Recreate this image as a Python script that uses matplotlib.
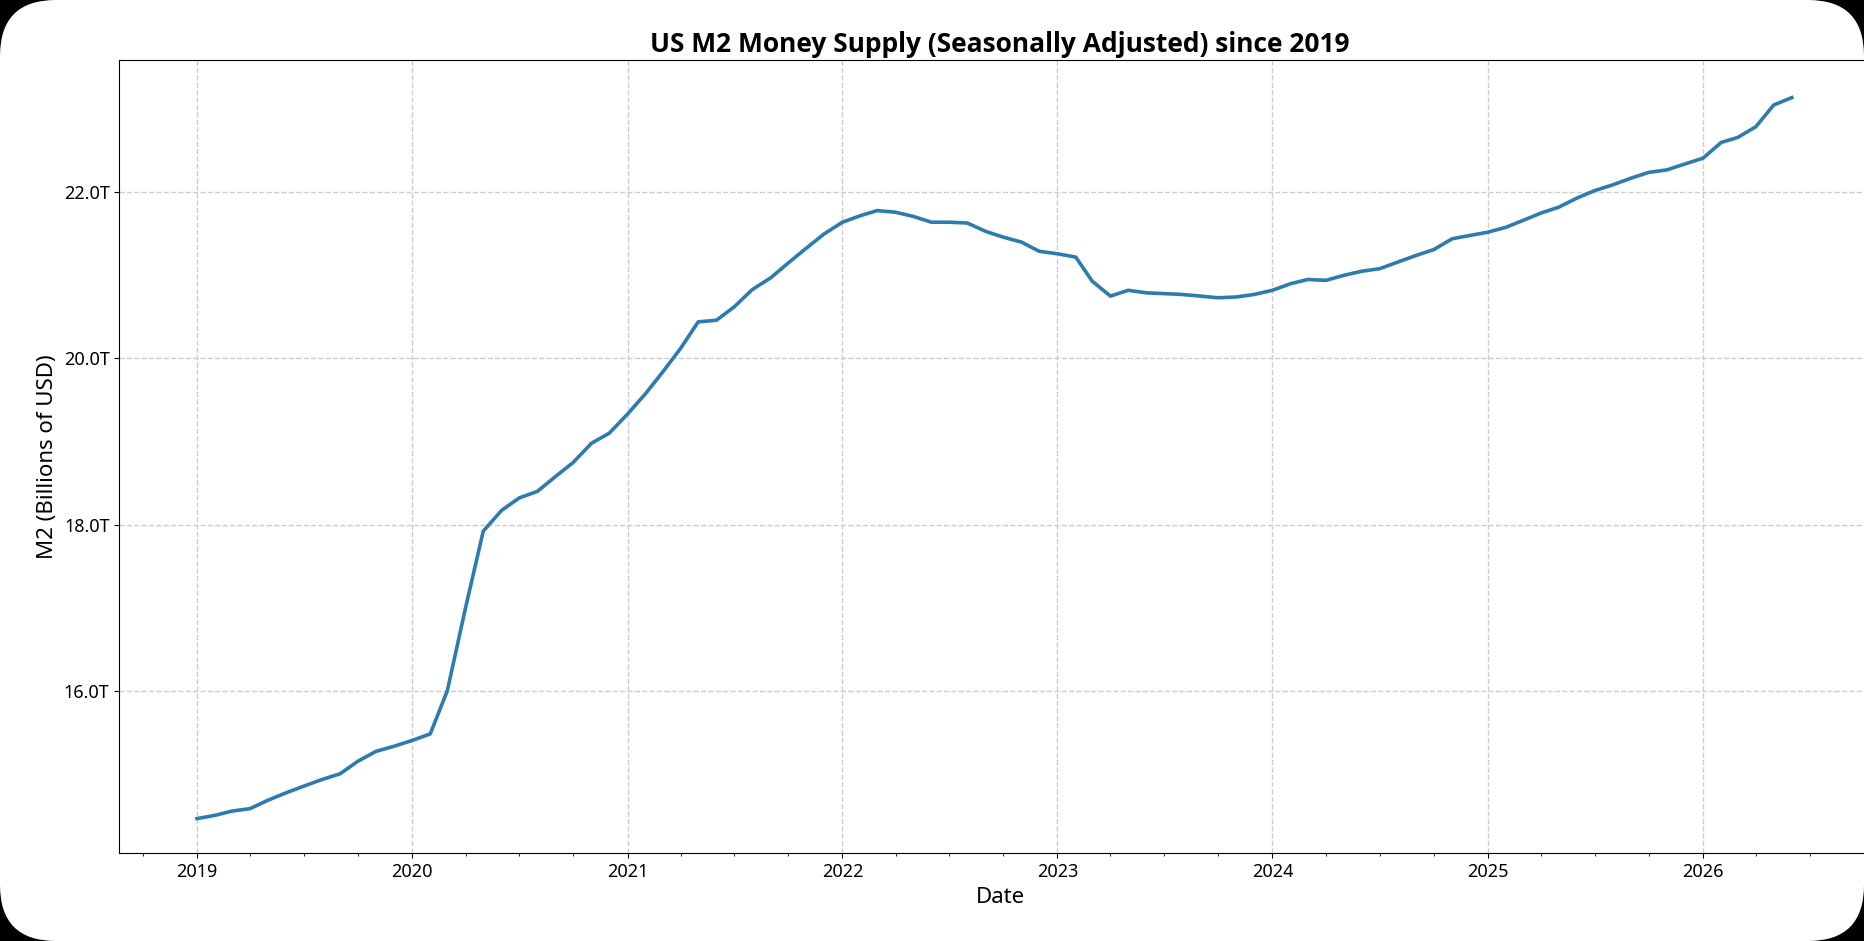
import numpy as np
import pandas as pd
import matplotlib
matplotlib.use("Agg")
import matplotlib.pyplot as plt
import matplotlib.dates as mdates
from matplotlib.patches import FancyBboxPatch
from matplotlib.ticker import FuncFormatter

plt.rcParams['font.family'] = ['Noto Sans', 'DejaVu Sans']

# monthly M2, trillions USD, Jan 2019 .. Jun 2026
m2_2019 = [14.46, 14.50, 14.55, 14.58, 14.68, 14.77, 14.85, 14.93, 15.00, 15.15, 15.27, 15.33]
m2_2020 = [15.40, 15.48, 16.00, 17.00, 17.92, 18.17, 18.32, 18.40, 18.58, 18.75, 18.98, 19.10]
m2_2021 = [19.33, 19.58, 19.83, 20.12, 20.44, 20.46, 20.62, 20.83, 20.97, 21.15, 21.33, 21.50]
m2_2022 = [21.64, 21.72, 21.78, 21.76, 21.71, 21.64, 21.64, 21.63, 21.53, 21.46, 21.40, 21.29]
m2_2023 = [21.26, 21.22, 20.93, 20.75, 20.82, 20.79, 20.78, 20.77, 20.75, 20.73, 20.74, 20.77]
m2_2024 = [20.82, 20.90, 20.95, 20.94, 21.00, 21.05, 21.08, 21.16, 21.24, 21.31, 21.44, 21.48]
m2_2025 = [21.52, 21.58, 21.66, 21.75, 21.82, 21.93, 22.02, 22.09, 22.17, 22.24, 22.27, 22.34]
m2_2026 = [22.41, 22.60, 22.66, 22.79, 23.05, 23.14]

values = m2_2019 + m2_2020 + m2_2021 + m2_2022 + m2_2023 + m2_2024 + m2_2025 + m2_2026
dates = pd.date_range("2019-01-01", periods=len(values), freq="MS")

fig = plt.figure(figsize=(18.64, 9.41), dpi=100, facecolor="black")
bg = FancyBboxPatch((0.0, 0.0), 1.0, 1.0, boxstyle="round,pad=0,rounding_size=0.03",
                    transform=fig.transFigure, facecolor="white", edgecolor="none",
                    mutation_aspect=18.64 / 9.41, zorder=-10)
fig.patches.append(bg)

ax = fig.add_axes([0.064, 0.093, 0.945, 0.843])
ax.set_facecolor("white")
ax.plot(dates, values, color="#2e7bb0", linewidth=2.6)

ax.set_xlim(pd.Timestamp("2018-08-22"), pd.Timestamp("2026-10-30"))
ax.set_ylim(14.04, 23.59)
ax.set_yticks([16, 18, 20, 22])
ax.yaxis.set_major_formatter(FuncFormatter(lambda v, p: f"{v:.1f}T"))
ax.xaxis.set_major_locator(mdates.YearLocator())
ax.xaxis.set_minor_locator(mdates.MonthLocator(bymonth=[4, 7, 10]))
ax.xaxis.set_major_formatter(mdates.DateFormatter("%Y"))
ax.tick_params(labelsize=13)
ax.grid(True, linestyle="--", color="#cccccc", linewidth=1)

ax.set_title("US M2 Money Supply (Seasonally Adjusted) since 2019", fontsize=19,
             fontweight="bold", family=["Open Sans", "DejaVu Sans"])
ax.set_xlabel("Date", fontsize=16)
ax.set_ylabel("M2 (Billions of USD)", fontsize=16)

fig.savefig("out.png", dpi=100, facecolor=fig.get_facecolor())
